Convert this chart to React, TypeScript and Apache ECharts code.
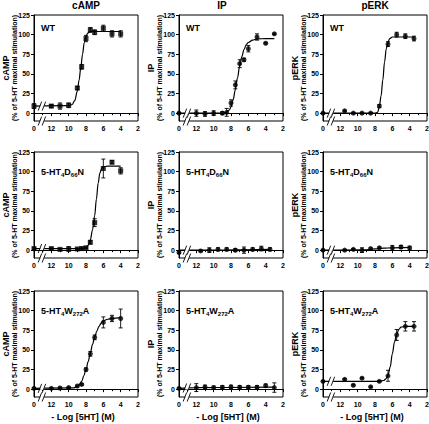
import React, { useEffect, useRef } from "react";
import * as echarts from "echarts";

// ---- column / row labels ----
const columnTitles = ["cAMP", "IP", "pERK"];
const rowLabels = ["WT", "5-HT4D66N", "5-HT4W272A"];
const xTickValues = [14, 12, 10, 8, 6, 4, 2];
const yTickValues = [0, 25, 50, 75, 100, 125];
const xAxisTitle = "- Log [5HT] (M)";
const yAxisSub = "(% of 5-HT maximal stimulation)";

// ---- data (x = -log[5HT]; 14 stands for the "0" control) ----
// cAMP WT
const campWtX = [14, 12, 11, 10, 9, 8.5, 8, 7.5, 7, 6, 5, 4];
const campWtY = [9, 9, 9, 10, 32, 59, 95, 106, 103, 108, 101, 101];
const campWtE = [3, 2, 4, 3, 2, 3, 4, 3, 3, 4, 4, 4];
const campWtFitX = [14, 10, 9.6, 9.3, 9, 8.8, 8.6, 8.4, 8.2, 8, 7.8, 7.5, 7, 4];
const campWtFitY = [9, 9.5, 11, 16, 28, 42, 58, 75, 90, 98, 102, 104, 104, 104];

// IP WT
const ipWtX = [14, 12, 11, 10, 9, 8.5, 8, 7.5, 7, 6.5, 6, 5, 4, 3];
const ipWtY = [0, 0, -1, 0, 0, 1, 13, 36, 63, 68, 82, 97, 89, 101];
const ipWtE = [1, 4, 3, 3, 2, 5, 4, 5, 5, 2, 4, 4, 1, 1];
const ipWtFitX = [14, 9, 8.5, 8.2, 8, 7.75, 7.5, 7.25, 7, 6.75, 6.5, 6.25, 6, 5.5, 5, 4, 3];
const ipWtFitY = [0, 0, 1, 4, 8, 17, 30, 45, 60, 72, 81, 87, 90, 93, 94.5, 95, 95];

// pERK WT
const perkWtX = [14, 11.5, 10.5, 9.5, 8.5, 7.5, 6.5, 5.5, 4.5, 3.5];
const perkWtY = [0, 3, 0, 0, 0, 9, 88, 100, 98, 95];
const perkWtE = [1, 1, 1, 1, 1, 2, 3, 3, 3, 3];
const perkWtFitX = [14, 8, 7.7, 7.5, 7.3, 7.1, 6.9, 6.7, 6.5, 6.3, 6, 3.5];
const perkWtFitY = [0, 0, 1, 8, 22, 42, 65, 82, 91, 95, 97, 97];

// cAMP D66N
const campDX = [14, 12, 11, 10, 9, 8.5, 8, 7.5, 7, 6, 5, 4];
const campDY = [2, 2, 1, 1.5, 1.5, 2, 3, 10, 35, 104, 112, 101];
const campDE = [1, 1, 1, 3, 1, 2, 1, 2, 5, 12, 2, 4];
const campDFitX = [14, 8.5, 8, 7.75, 7.5, 7.25, 7, 6.8, 6.6, 6.4, 6.2, 6, 5.5, 4];
const campDFitY = [2, 2, 3, 6, 13, 26, 44, 65, 85, 98, 104, 106, 107, 107];

// IP D66N
const ipDX = [14, 11.5, 10.5, 9.5, 8.5, 7.5, 6.5, 5.5, 4.5, 3.5];
const ipDY = [-3, -1, 0, 1, 1, 0, 0, 1, 2, 1];
const ipDE = [1, 1, 3, 2, 2, 2, 4, 2, 3, 2];
const ipDFitX = [14, 11.5, 3.5];
const ipDFitY = [0, 0, 1];

// pERK D66N
const perkDX = [14, 11.5, 10.5, 9.5, 8.5, 7.5, 6, 5, 4];
const perkDY = [0, 0, 1, 0, 2, 3, 3, 4, 3];
const perkDE = [1, 1, 1, 3, 1, 1, 3, 2, 2];
const perkDFitX = [14, 9, 8, 7, 6, 4];
const perkDFitY = [0, 0.5, 1.5, 2.5, 3, 3.5];

// cAMP W272A
const campAX = [14, 12, 11, 10, 9, 8.5, 8, 7.5, 7, 6, 5, 4];
const campAY = [1, 1, 1.5, 2, 4, 6, 25, 45, 66, 85, 90, 90];
const campAE = [1, 1, 1, 1, 1, 1, 2, 3, 3, 7, 4, 12];
const campAFitX = [14, 9.5, 9, 8.75, 8.5, 8.25, 8, 7.75, 7.5, 7.25, 7, 6.75, 6.5, 6.25, 6, 5.5, 5, 4];
const campAFitY = [1, 1.5, 3, 6, 10, 17, 25, 35, 46, 57, 66, 74, 80, 84, 87, 89, 90, 91];

// IP W272A
const ipAX = [14, 12, 11, 10, 9, 8, 7, 6, 5, 4, 3];
const ipAY = [1, 2, 3, 2, 2.5, 3, 2.5, 2.5, 2.5, 4.5, 2];
const ipAE = [1, 5, 2, 2, 2, 2, 2, 2, 2, 2, 6];
const ipAFitX = [14, 12, 3];
const ipAFitY = [1, 2, 2.5];

// pERK W272A
const perkAX = [14, 11.5, 10.5, 9.5, 8.5, 7.5, 6.5, 5.5, 4.5, 3.5];
const perkAY = [10, 12.5, 5, 14, 3, 10, 17, 69, 80, 80];
const perkAE = [1, 1, 1, 1, 1, 1, 7, 7, 6, 6];
const perkAFitX = [14, 7.5, 7, 6.75, 6.5, 6.25, 6, 5.75, 5.5, 5.25, 5, 4.5, 3.5];
const perkAFitY = [10, 10, 11, 13, 18, 28, 45, 60, 70, 76, 79, 80, 80];

// level of the curve where the axis-break marks sit
const breakLevels = [9, 0, 0, 2, 0, 0, 1, 1.5, 10];

const panelData = [
  [campWtX, campWtY, campWtE, campWtFitX, campWtFitY],
  [ipWtX, ipWtY, ipWtE, ipWtFitX, ipWtFitY],
  [perkWtX, perkWtY, perkWtE, perkWtFitX, perkWtFitY],
  [campDX, campDY, campDE, campDFitX, campDFitY],
  [ipDX, ipDY, ipDE, ipDFitX, ipDFitY],
  [perkDX, perkDY, perkDE, perkDFitX, perkDFitY],
  [campAX, campAY, campAE, campAFitX, campAFitY],
  [ipAX, ipAY, ipAE, ipAFitX, ipAFitY],
  [perkAX, perkAY, perkAE, perkAFitX, perkAFitY],
];

const COL_LEFT = [34, 179, 323];
const ROW_TOP = [15, 152, 291];
const GW = 104;
const GH = 106;
const FONT = "'Liberation Sans', Arial, sans-serif";

function richLabel(label: string) {
  if (label === "WT") return "{m|WT}";
  const m = label.match(/^5-HT4([A-Z])(\d+)([A-Z])$/);
  if (!m) return `{m|${label}}`;
  return `{m|5-HT}{s|4}{m|${m[1]}}{s|${m[2]}}{m|${m[3]}}`;
}

export default function App() {
  const ref = useRef<HTMLDivElement>(null);
  useEffect(() => {
    if (!ref.current) return;
    const chart = echarts.init(ref.current, null, { renderer: "svg" });

    const grids: any[] = [];
    const xAxes: any[] = [];
    const yAxes: any[] = [];
    const series: any[] = [];
    const graphics: any[] = [];

    panelData.forEach((pd, i) => {
      const r = Math.floor(i / 3);
      const c = i % 3;
      const [px, py, pe, fx, fy] = pd as number[][];
      grids.push({
        left: COL_LEFT[c],
        top: ROW_TOP[r],
        width: GW,
        height: GH,
        show: true,
        borderColor: "#000",
        borderWidth: 1,
        backgroundColor: "transparent",
        containLabel: false,
        outerBoundsMode: "none",
      });
      xAxes.push({
        type: "value",
        gridIndex: i,
        min: 2,
        max: 14,
        interval: 2,
        inverse: true,
        axisLine: { show: true, lineStyle: { color: "#000", width: 1 } },
        axisTick: { show: true, length: 3, lineStyle: { color: "#000" } },
        minorTick: { show: true, splitNumber: 2, length: 2, lineStyle: { color: "#000" } },
        splitLine: { show: false },
        axisLabel: {
          color: "#000",
          fontSize: 7,
          fontWeight: "bold",
          fontFamily: FONT,
          margin: 4,
          showMinLabel: true,
          showMaxLabel: true,
          formatter: (v: number) => (v === 14 ? "0" : String(v)),
        },
      });
      yAxes.push({
        type: "value",
        gridIndex: i,
        min: -10,
        max: 125,
        axisLine: { show: true, lineStyle: { color: "#000", width: 1 } },
        axisTick: { show: true, length: 3, lineStyle: { color: "#000" }, customValues: yTickValues },
        splitLine: { show: false },
        axisLabel: {
          color: "#000",
          fontSize: 7,
          fontWeight: "bold",
          fontFamily: FONT,
          margin: 4,
          customValues: yTickValues,
        },
      });
      // fitted curve
      series.push({
        type: "line",
        xAxisIndex: i,
        yAxisIndex: i,
        data: fx.map((x, k) => [x, fy[k]]),
        showSymbol: false,
        symbol: "none",
        smooth: 0.35,
        smoothMonotone: "x",
        lineStyle: { color: "#000", width: 1.2 },
        z: 2,
        silent: true,
      });
      // error bars
      series.push({
        type: "custom",
        xAxisIndex: i,
        yAxisIndex: i,
        data: px.map((x, k) => [x, py[k], pe[k]]),
        z: 3,
        renderItem: (params: any, api: any) => {
          const x = api.value(0);
          const y = api.value(1);
          const e = api.value(2);
          const top = api.coord([x, y + e]);
          const bot = api.coord([x, y - e]);
          const st = { stroke: "#000", lineWidth: 0.9 };
          return {
            type: "group",
            children: [
              { type: "line", shape: { x1: top[0], y1: top[1], x2: bot[0], y2: bot[1] }, style: st },
              { type: "line", shape: { x1: top[0] - 2, y1: top[1], x2: top[0] + 2, y2: top[1] }, style: st },
              { type: "line", shape: { x1: bot[0] - 2, y1: bot[1], x2: bot[0] + 2, y2: bot[1] }, style: st },
            ],
          };
        },
      });
      // points
      series.push({
        type: "scatter",
        xAxisIndex: i,
        yAxisIndex: i,
        data: px.map((x, k) => [x, py[k]]),
        symbol: i === 0 || i === 3 ? "rect" : "circle",
        symbolSize: 5,
        itemStyle: { color: "#000" },
        z: 4,
      });
      // axis break marks
      series.push({
        type: "custom",
        xAxisIndex: i,
        yAxisIndex: i,
        clip: false,
        z: 5,
        data: [
          [13, breakLevels[i]],
          [13, -10],
        ],
        renderItem: (params: any, api: any) => {
          const p = api.coord([api.value(0), api.value(1)]);
          const cx = p[0];
          const cy = p[1];
          const st = { stroke: "#000", lineWidth: 0.9 };
          return {
            type: "group",
            children: [
              { type: "rect", shape: { x: cx - 2.5, y: cy - 1.5, width: 4, height: 3 }, style: { fill: "#fff" } },
              { type: "line", shape: { x1: cx - 4.5, y1: cy + 4.5, x2: cx - 1, y2: cy - 4.5 }, style: st },
              { type: "line", shape: { x1: cx - 0.5, y1: cy + 4.5, x2: cx + 3, y2: cy - 4.5 }, style: st },
            ],
          };
        },
      });

      // panel label
      graphics.push({
        type: "text",
        x: COL_LEFT[c] + 7,
        y: ROW_TOP[r] + (r === 0 ? 13 : 20),
        style: {
          text: richLabel(rowLabels[r]),
          textVerticalAlign: "middle",
          rich: {
            m: { fontSize: 9, fontWeight: "bold", fontFamily: FONT, fill: "#000", lineHeight: 11 },
            s: { fontSize: 6, fontWeight: "bold", fontFamily: FONT, fill: "#000", lineHeight: 11, padding: [5, 0, 0, 0] },
          },
        },
      });
      // y-axis names (two lines, rotated)
      const yc = ROW_TOP[r] + GH / 2;
      graphics.push({
        type: "text",
        x: COL_LEFT[c] - 28,
        y: yc,
        rotation: Math.PI / 2,
        style: {
          text: columnTitles[c],
          fontSize: 9,
          fontWeight: "bold",
          fontFamily: FONT,
          fill: "#000",
          textAlign: "center",
          textVerticalAlign: "middle",
        },
      });
      graphics.push({
        type: "text",
        x: COL_LEFT[c] - 20,
        y: yc,
        rotation: Math.PI / 2,
        style: {
          text: yAxisSub,
          fontSize: 7,
          fontWeight: "bold",
          fontFamily: FONT,
          fill: "#000",
          textAlign: "center",
          textVerticalAlign: "middle",
        },
      });
      if (r === 2) {
        graphics.push({
          type: "text",
          x: COL_LEFT[c] + GW / 2 - 3,
          y: ROW_TOP[r] + GH + 20,
          style: {
            text: xAxisTitle,
            fontSize: 9,
            fontWeight: "bold",
            fontFamily: FONT,
            fill: "#000",
            textAlign: "center",
            textVerticalAlign: "middle",
          },
        });
      }
    });

    // column titles
    const titleX = [86, 222, 375];
    columnTitles.forEach((t, c) => {
      graphics.push({
        type: "text",
        x: titleX[c],
        y: 5,
        style: {
          text: t,
          fontSize: 10,
          fontWeight: "bold",
          fontFamily: FONT,
          fill: "#000",
          textAlign: "center",
          textVerticalAlign: "middle",
        },
      });
    });

    chart.setOption({
      animation: false,
      backgroundColor: "#fff",
      textStyle: { fontFamily: FONT },
      grid: grids,
      xAxis: xAxes,
      yAxis: yAxes,
      series,
      graphic: graphics,
    });
    return () => chart.dispose();
  }, []);

  return (
    <div
      ref={ref}
      style={{ width: 429, height: 424, position: "absolute", left: 0, top: 0 }}
    />
  );
}
